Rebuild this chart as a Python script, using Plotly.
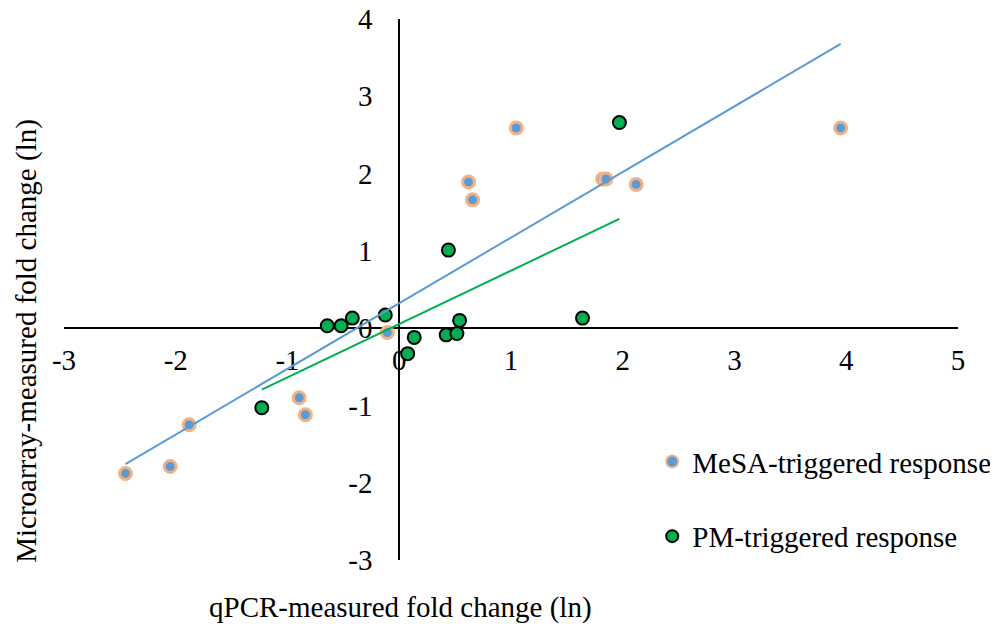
import numpy as np
import plotly.graph_objects as go

# MeSA-triggered response (qPCR ln FC, microarray ln FC)
mesa_x = [-2.45, -2.05, -1.88, -0.895, -0.84, -0.107, 0.62, 0.656, 1.047, 1.82, 1.85, 2.12, 3.95]
mesa_y = [-1.88, -1.79, -1.25, -0.90, -1.12, -0.056, 1.89, 1.66, 2.59, 1.93, 1.93, 1.86, 2.59]

# PM-triggered response
pm_x = [-1.23, -0.644, -0.52, -0.42, -0.125, 0.075, 0.134, 0.42, 0.516, 0.54, 0.44, 1.64, 1.97]
pm_y = [-1.03, 0.03, 0.03, 0.13, 0.17, -0.33, -0.12, -0.087, -0.07, 0.10, 1.01, 0.13, 2.66]

x_ticks = [-3, -2, -1, 0, 1, 2, 3, 4, 5]
x_tick_labels = ["-3", "-2", "-1", "0", "1", "2", "3", "4", "5"]
y_ticks = [-3, -2, -1, 0, 1, 2, 3, 4]
y_tick_labels = ["-3", "-2", "-1", "0", "1", "2", "3", "4"]

FONT = "Liberation Serif, Times New Roman, serif"
BLUE = "#5B9BD5"
ORANGE = "#F4B183"
GREEN = "#00B050"


def trend(xs, ys):
    xs = np.array(xs)
    ys = np.array(ys)
    k, b = np.polyfit(xs, ys, 1)
    xe = np.array([xs.min(), xs.max()])
    return xe, k * xe + b


fig = go.Figure()
fig.add_trace(go.Scatter(
    x=mesa_x, y=mesa_y, mode="markers", name="MeSA-triggered response",
    legendgroup="a",
    marker=dict(size=12, color=BLUE, line=dict(color=ORANGE, width=3)),
))
fig.add_trace(go.Scatter(
    x=pm_x, y=pm_y, mode="markers", name="PM-triggered response",
    legendgroup="b",
    marker=dict(size=13, color=GREEN, line=dict(color="black", width=2)),
))
tx, ty = trend(mesa_x, mesa_y)
fig.add_trace(go.Scatter(x=tx, y=ty, mode="lines", showlegend=False,
                         line=dict(color=BLUE, width=2), hoverinfo="skip"))
tx, ty = trend(pm_x, pm_y)
fig.add_trace(go.Scatter(x=tx, y=ty, mode="lines", showlegend=False,
                         line=dict(color=GREEN, width=2), hoverinfo="skip"))

fig.update_layout(
    width=990, height=616,
    margin=dict(l=56, r=40, t=11, b=64, autoexpand=False),
    paper_bgcolor="white", plot_bgcolor="white",
    font=dict(family=FONT, size=29, color="black"),
    showlegend=True,
    legend=dict(x=0.658, y=0.229, xanchor="left", yanchor="top",
                font=dict(size=29), tracegroupgap=34,
                bgcolor="rgba(0,0,0,0)", itemsizing="constant"),
    xaxis=dict(range=[-3, 5], anchor="free", position=3 / 7, automargin=False,
               showgrid=False, zeroline=False, showline=True,
               linecolor="black", linewidth=2, layer="below traces",
               tickmode="array", tickvals=x_ticks, ticktext=x_tick_labels,
               ticks="", ticklabelstandoff=6, ticklabeloverflow="allow",
               domain=[0, 1]),
    yaxis=dict(range=[-3, 4], anchor="free", position=3 / 8, automargin=False,
               showgrid=False, zeroline=False, showline=True,
               linecolor="black", linewidth=2, layer="below traces",
               tickmode="array", tickvals=y_ticks, ticktext=y_tick_labels,
               ticks="", ticklabelstandoff=20, ticklabeloverflow="allow",
               domain=[0, 1]),
    annotations=[
        dict(text="qPCR-measured fold change (ln)", xref="paper", yref="paper",
             x=0.376, y=-0.088, xanchor="center", yanchor="middle",
             showarrow=False, font=dict(size=29)),
        dict(text="Microarray-measured fold change (ln)", xref="paper", yref="paper",
             x=-0.042, y=0.406, xanchor="center", yanchor="middle", textangle=-90,
             showarrow=False, font=dict(size=29)),
    ],
)

fig.write_html("out.html")
